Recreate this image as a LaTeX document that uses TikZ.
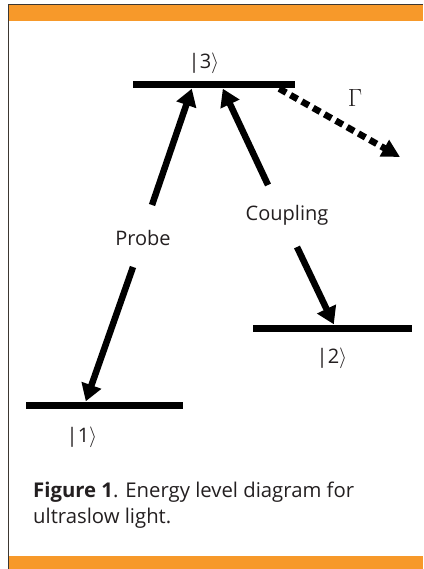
\documentclass[tikz,border=0pt]{standalone}
\usepackage{fontspec}
\setmainfont{Open Sans}
\usetikzlibrary{arrows.meta}

\definecolor{barorange}{RGB}{247,153,42}
\definecolor{framegray}{RGB}{60,55,50}
\definecolor{textgray}{RGB}{35,31,32}

\begin{document}
\begin{tikzpicture}[
    x=1pt, y=-1pt,
    level/.style={
        rectangle,
        fill=black,
        inner sep=0pt,
        minimum height=7pt
    },
    lbl/.style={
        text=textgray,
        font=\fontsize{20}{24}\selectfont,
        inner sep=1pt
    },
    arrow/.style={
        line width=6.5pt,
        -{Triangle[length=17pt, width=20pt]}
    },
    decay/.style={
        line width=6.5pt,
        dash pattern=on 8pt off 5pt,
        -{Triangle[length=18pt, width=18pt]}
    }
]

\useasboundingbox (0,0) rectangle (423,569);

% ------------------------------------------------
% Frame
% ------------------------------------------------

\fill[barorange] (8,5) rectangle (423,21);
\fill[barorange] (8,556) rectangle (423,569);
\draw[framegray, line width=1.3pt] (8.6,569) -- (8.6,4.2) -- (423,4.2);

% ------------------------------------------------
% Levels
% ------------------------------------------------

\node[level, minimum width=162pt] (l3) at (214,85) {};
\node[level, minimum width=157pt] (l1) at (104.5,405) {};
\node[level, minimum width=159pt] (l2) at (332.5,328) {};

\node[lbl] (k3) at (204,63) {|3$\rangle$};
\node[lbl] (k1) at (82,437) {|1$\rangle$};
\node[lbl] (k2) at (332,358) {|2$\rangle$};

\node[lbl] (probe) at (143,238) {Probe};
\node[lbl] (coupling) at (287,215) {Coupling};
\node[lbl, font=\fontsize{23}{24}\selectfont] (gamma) at (355,98) {$\Gamma$};

\coordinate (out) at (400,157);

% ------------------------------------------------
% Arrows
% ------------------------------------------------

\draw[arrow] ([shift={(9,-33)}]probe.center) -- ([xshift=59pt]l3.south west);
\draw[arrow] ([shift={(-10,29)}]probe.center) -- ([xshift=60pt]l1.north west);
\draw[arrow] ([shift={(-19,-30)}]coupling.center) -- ([xshift=90pt]l3.south west);
\draw[arrow] ([shift={(10,32)}]coupling.center) -- ([xshift=81pt]l2.north west);
\draw[decay] ([xshift=-16pt]l3.south east) -- (out);

% ------------------------------------------------
% Caption
% ------------------------------------------------

\node[lbl, anchor=base west, align=left, font=\fontsize{20.3}{26}\selectfont, inner sep=0pt] (caption) at (33,523)
    {\textbf{Figure 1}. Energy level diagram for\\ultraslow light.};

\end{tikzpicture}
\end{document}
